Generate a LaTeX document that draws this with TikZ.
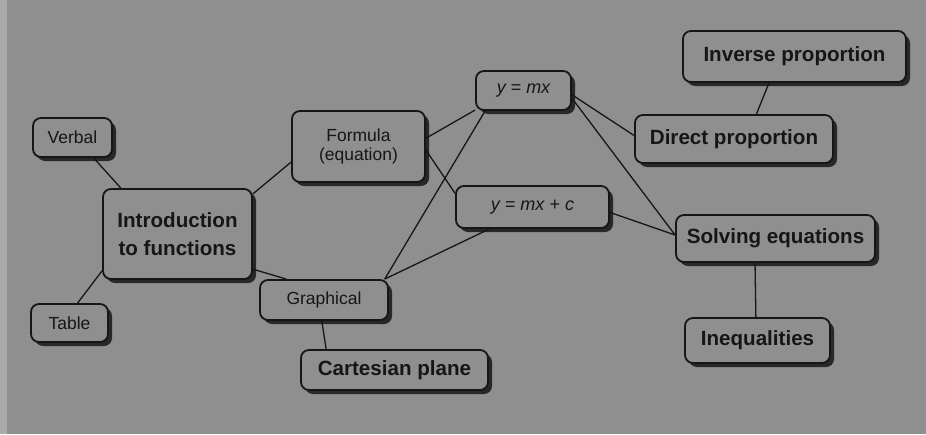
\documentclass[tikz,border=0pt]{standalone}
\usepackage{fontspec}
\setmainfont{Liberation Sans}
\usetikzlibrary{shadows}
\definecolor{fundal}{RGB}{143,143,143}
\definecolor{margine}{RGB}{170,170,170}
\definecolor{umbra}{RGB}{40,40,40}
\definecolor{cerneala}{RGB}{22,22,22}

\begin{document}
\begin{tikzpicture}[x=1pt,y=-1pt,
  box/.style={draw=cerneala,line width=1.8pt,rounded corners=8pt,fill=fundal,
    text=cerneala,align=center,inner sep=0pt,
    drop shadow={shadow xshift=4pt,shadow yshift=-4pt,fill=umbra,opacity=1}},
  mic/.style={box,font=\fontsize{17.5}{19}\selectfont},
  mare/.style={box,font=\fontsize{20.6}{28}\selectfont\bfseries},
  ecuatie/.style={box,font=\fontsize{18}{20}\selectfont\itshape},
  leg/.style={draw=cerneala,line width=1.3pt}]
  % fundal
  \fill[fundal] (0,0) rectangle (926,434);
  \fill[margine] (0,0) rectangle (7,434);

  % noduri
  \node[mic,minimum width=79pt,minimum height=39pt] (verbal) at (72.5,137.5) {Verbal};
  \node[mic,minimum width=77pt,minimum height=38pt] (table) at (69.5,323) {Table};
  \node[mare,minimum width=149pt,minimum height=90pt] (intro) at (177.5,234) {Introduction\\to functions};
  \node[mic,minimum width=133pt,minimum height=71pt] (formula) at (358.5,146.5) {Formula\\(equation)};
  \node[mic,minimum width=128pt,minimum height=40pt] (graphical) at (324,300) {Graphical};
  \node[mare,minimum width=187pt,minimum height=40pt] (cartesian) at (394.5,370) {Cartesian plane};
  \node[ecuatie,minimum width=95pt,minimum height=39pt] (ymx) at (523.5,90.5) {y = mx};
  \node[ecuatie,minimum width=153pt,minimum height=42pt] (ymxc) at (532.5,207) {y = mx + c};
  \node[mare,minimum width=223pt,minimum height=51pt] (inverse) at (794.5,56.5) {Inverse proportion};
  \node[mare,minimum width=198pt,minimum height=48pt] (direct) at (734,139) {Direct proportion};
  \node[mare,minimum width=199pt,minimum height=47pt] (solving) at (775.5,238.5) {Solving equations};
  \node[mare,minimum width=145pt,minimum height=45pt] (ineq) at (757.5,340.5) {Inequalities};

  % legături
  \foreach \a/\b in {verbal.-44/intro.141, table.68/intro.206,
    intro.28/formula.193, intro.-25/graphical.151,
    formula.7/ymx.202, formula.-3/ymxc.170,
    graphical.19/ymx.208, graphical.19/ymxc.207,
    ymx.-5/direct.178, ymx.-9/solving.178, ymxc.-4/solving.178,
    inverse.226/direct.48, solving.230/ineq.94, graphical.-96/cartesian.163}
  {
    \draw[leg] (\a) -- (\b);
  }
\end{tikzpicture}
\end{document}
